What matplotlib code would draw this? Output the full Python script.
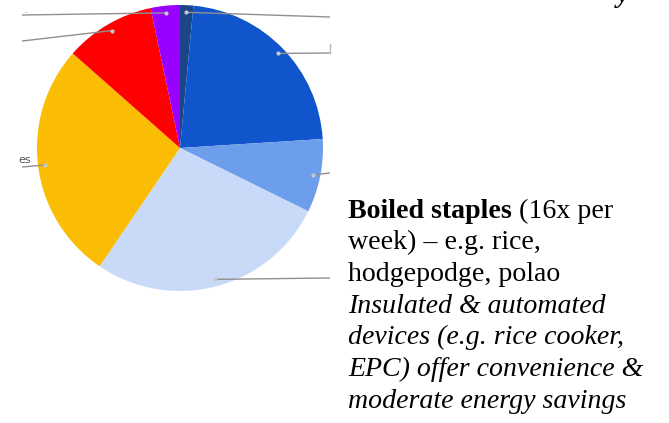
import numpy as np
import matplotlib
matplotlib.use("Agg")
import matplotlib.pyplot as plt

# Slice shares (percent), clockwise from 12 o'clock
slices = ["Navy", "Blue", "Light blue", "Pale blue", "Yellow", "Red", "Purple"]
shares = [1.5, 22.5, 8.3, 27.2, 27.0, 10.2, 3.3]
colors = ["#1c4587", "#1155cc", "#6d9eeb", "#c9daf8", "#fbbc04", "#ff0000", "#9900ff"]

# Leader line end points (pixels) for each slice label
leader_end_x = [330, 330, 330, 330, 22, 22, 22]
leader_end_y = [17, 53, 173, 278, 167, 41, 15]

W, H = 669, 423
fig = plt.figure(figsize=(W / 100, H / 100), dpi=100)
ax = fig.add_axes([0, 0, 1, 1])

cx, cy, R = 180, 148, 143
# y axis is inverted (pixel coords), so start at -90 and go counterclockwise
# in data space, which is clockwise on screen
wedges, _ = ax.pie(shares, colors=colors, startangle=-90, counterclock=True,
                   center=(cx, cy), radius=R, frame=True,
                   wedgeprops=dict(linewidth=0))
ax.set_xlim(0, W)
ax.set_ylim(H, 0)
ax.set_aspect("equal")
ax.axis("off")

# leader lines with dots
for w, ex, ey in zip(wedges, leader_end_x, leader_end_y):
    ang = np.deg2rad((w.theta1 + w.theta2) / 2)
    px, py = cx + 0.95 * R * np.cos(ang), cy + 0.95 * R * np.sin(ang)
    ax.plot([px, ex], [py, ey], color="#909090", lw=1.0, solid_capstyle="butt")
    ax.plot([px], [py], "o", color="#c8c8c8", ms=3, mec="none")

# small clipped label fragments
ax.plot([330, 330], [44, 53], color="#bbbbbb", lw=1.0)
ax.text(31, 163, "es", fontsize=8, color="#555555", ha="right", va="baseline",
        family="DejaVu Sans")
ax.text(23, 13, "..", fontsize=6, color="#999999", ha="left", va="baseline")

# cropped title fragment at top right
ax.text(617, 2, "y", fontsize=20, fontweight="bold", style="italic",
        family="Liberation Serif", ha="left", va="baseline", color="black")

# right-hand description
fs = 20.1
x0 = 348
lines_y = [218, 249, 281, 313, 344, 376, 408]
t = ax.text(x0, lines_y[0], "Boiled staples", fontsize=fs, fontweight="bold",
            family="Liberation Serif", va="baseline", ha="left")
fig.canvas.draw()
bb = t.get_window_extent()
inv = ax.transData.inverted()
xend = inv.transform((bb.x1, bb.y0))[0]
ax.text(xend, lines_y[0], " (16x per", fontsize=fs, family="Liberation Serif",
        va="baseline", ha="left")
ax.text(x0, lines_y[1], "week) \u2013 e.g. rice,", fontsize=fs, family="Liberation Serif",
        va="baseline", ha="left")
ax.text(x0, lines_y[2], "hodgepodge, polao", fontsize=fs, family="Liberation Serif",
        va="baseline", ha="left")
for yy, s in zip(lines_y[3:], ["Insulated & automated",
                              "devices (e.g. rice cooker,",
                              "EPC) offer convenience &",
                              "moderate energy savings"]):
    ax.text(x0, yy, s, fontsize=fs, family="Liberation Serif", style="italic",
            va="baseline", ha="left")

fig.savefig("out.png", dpi=100)
